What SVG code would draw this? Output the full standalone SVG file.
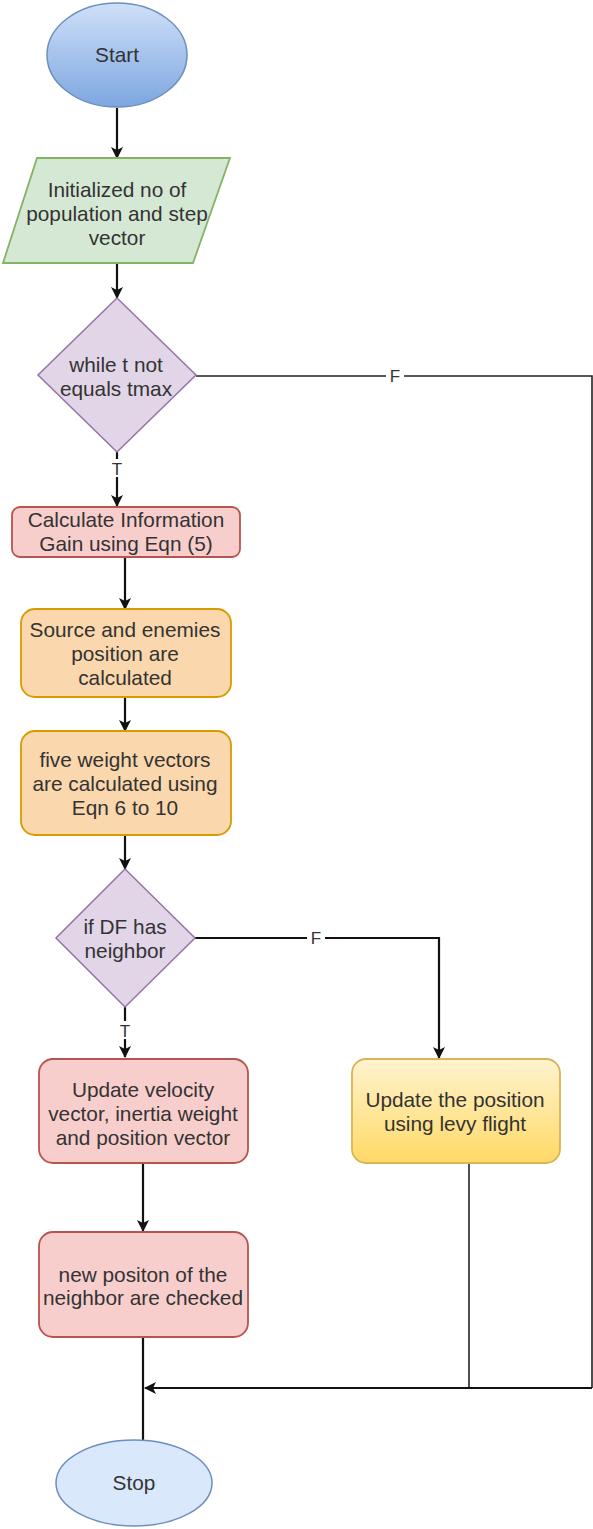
<svg xmlns="http://www.w3.org/2000/svg" width="593" height="1529" viewBox="0 0 593 1529">
<style>
text{font-family:"Liberation Sans",Arial,sans-serif;font-size:20.8px;fill:#333;text-anchor:middle}
.lbl{font-size:17px;fill:#333}
.ln{fill:none;stroke:#111;stroke-width:2.2}
.thin{fill:none;stroke:#222;stroke-width:1.6}
.dia{fill:#e1d5e7;stroke:#9673a6;stroke-width:1.5}
.pink{fill:#f8cecc;stroke:#b85450;stroke-width:1.8}
.orange{fill:#fad7ac;stroke:#d79b00;stroke-width:1.8}
</style>
<defs>
<linearGradient id="gBlue" x1="0" y1="0" x2="0" y2="1"><stop offset="0" stop-color="#cfe0f8"/><stop offset="1" stop-color="#7ea6e0"/></linearGradient>
<linearGradient id="gYel" x1="0" y1="0" x2="0" y2="1"><stop offset="0" stop-color="#fff3cf"/><stop offset="1" stop-color="#ffd966"/></linearGradient>
<marker id="arr" viewBox="0 0 12 12" refX="11" refY="6" markerWidth="12" markerHeight="12" markerUnits="userSpaceOnUse" orient="auto">
<path d="M0,0 L12,6 L0,12 L3,6 Z" fill="#111"/>
</marker>
</defs>

<g id="connectors">
<line class="ln" x1="117" y1="108" x2="117" y2="158" marker-end="url(#arr)"/>
<line class="ln" x1="117" y1="263" x2="117" y2="298" marker-end="url(#arr)"/>
<polyline class="thin" points="196,376 592,376 592,1388"/>
<rect x="386" y="366" width="18" height="20" fill="#fff"/>
<text class="lbl" x="395" y="382">F</text>
<line class="ln" x1="117" y1="452" x2="117" y2="506" marker-end="url(#arr)"/>
<rect x="109" y="459" width="16" height="18" fill="#fff"/>
<text class="lbl" x="117" y="475">T</text>
<line class="ln" x1="125" y1="557" x2="125" y2="609" marker-end="url(#arr)"/>
<line class="ln" x1="125" y1="697" x2="125" y2="731" marker-end="url(#arr)"/>
<line class="ln" x1="125" y1="835" x2="125" y2="869" marker-end="url(#arr)"/>
<polyline class="ln" points="195,938 439,938 439,1058" marker-end="url(#arr)"/>
<rect x="307" y="928" width="18" height="20" fill="#fff"/>
<text class="lbl" x="316" y="944">F</text>
<line class="ln" x1="125" y1="1007" x2="125" y2="1057" marker-end="url(#arr)"/>
<rect x="117" y="1021" width="16" height="18" fill="#fff"/>
<text class="lbl" x="125" y="1037">T</text>
<line class="ln" x1="143" y1="1163" x2="143" y2="1231" marker-end="url(#arr)"/>
<line class="ln" x1="143" y1="1337" x2="143" y2="1440"/>
<line class="thin" x1="469" y1="1163" x2="469" y2="1388"/>
<line class="ln" x1="592" y1="1388" x2="145" y2="1388" marker-end="url(#arr)"/>
</g>

<g id="start">
<ellipse cx="117" cy="55" rx="70" ry="52" fill="url(#gBlue)" stroke="#6c8ebf" stroke-width="1.5"/>
<text x="117" y="62">Start</text>
</g>

<g id="init">
<polygon points="37,158 230,158 193,263 3,263" fill="#d5e8d4" stroke="#82b366" stroke-width="1.8"/>
<text x="117" y="197">Initialized no of</text>
<text x="117" y="221">population and step</text>
<text x="117" y="245">vector</text>
</g>

<g id="while">
<polygon class="dia" points="117,298 196,375 117,452 38,375"/>
<text x="116" y="372">while t not</text>
<text x="116" y="396">equals tmax</text>
</g>

<g id="calcIG">
<rect class="pink" x="12" y="507" width="228" height="50" rx="8"/>
<text x="126" y="527">Calculate Information</text>
<text x="126" y="551">Gain using Eqn (5)</text>
</g>

<g id="source">
<rect class="orange" x="21" y="609" width="210" height="88" rx="14"/>
<text x="125" y="637">Source and enemies</text>
<text x="125" y="661">position are</text>
<text x="125" y="685">calculated</text>
</g>

<g id="weights">
<rect class="orange" x="21" y="731" width="210" height="104" rx="14"/>
<text x="125" y="767">five weight vectors</text>
<text x="125" y="791">are calculated using</text>
<text x="125" y="815">Eqn 6 to 10</text>
</g>

<g id="ifDF">
<polygon class="dia" points="125,869 195,938 125,1007 56,938"/>
<text x="125" y="934">if DF has</text>
<text x="125" y="958">neighbor</text>
</g>

<g id="updVel">
<rect class="pink" x="39" y="1059" width="209" height="104" rx="14"/>
<text x="143" y="1097">Update velocity</text>
<text x="143" y="1121">vector, inertia weight</text>
<text x="143" y="1145">and position vector</text>
</g>

<g id="levy">
<rect x="352" y="1059" width="208" height="104" rx="14" fill="url(#gYel)" stroke="#d6b656" stroke-width="1.8"/>
<text x="455" y="1107">Update the position</text>
<text x="455" y="1131">using levy flight</text>
</g>

<g id="checked">
<rect class="pink" x="39" y="1232" width="209" height="105" rx="14"/>
<text x="143" y="1282">new positon of the</text>
<text x="143" y="1305">neighbor are checked</text>
</g>

<g id="stop">
<ellipse cx="134" cy="1483" rx="78" ry="43" fill="#dae8fc" stroke="#6c8ebf" stroke-width="1.5"/>
<text x="134" y="1490">Stop</text>
</g>
</svg>
